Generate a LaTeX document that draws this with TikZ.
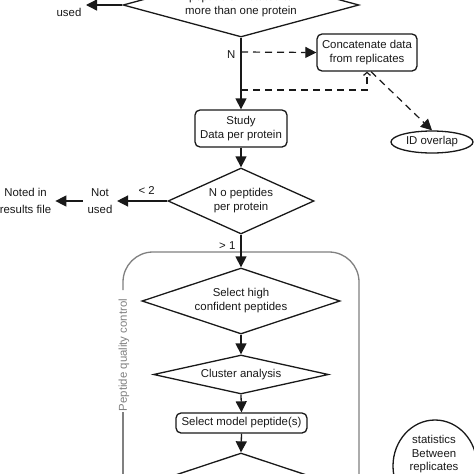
\documentclass[tikz,border=0pt]{standalone}
\usepackage{fontspec}
\setmainfont{Liberation Sans}
\usetikzlibrary{shapes.geometric,arrows.meta}
\begin{document}
\begin{tikzpicture}[x=1pt,y=-1pt,
  every node/.style={font=\fontsize{11.4}{14}\selectfont, text=black!90, align=center},
  wide/.style={font=\fontsize{11.4}{16.5}\selectfont},
  line/.style={line width=1.3pt, draw=black!90},
  arr/.style={line, -{Triangle[length=11pt,width=11pt]}},
  dsh/.style={line width=1.2pt, draw=black!90, dash pattern=on 7pt off 5pt},
  dec/.style={diamond, draw=black!90, line width=1.3pt, aspect=3, inner sep=0pt},
  proc/.style={rectangle, rounded corners=5pt, draw=black!90, line width=1.3pt, inner sep=0pt},
  oval/.style={ellipse, draw=black!90, line width=1.3pt, inner sep=0pt},
  lbl/.style={inner sep=0pt},
  frame/.style={draw=black!50, line width=1.3pt, rounded corners=30pt}]
\path[use as bounding box] (0,0) rectangle (474,474);
\fill[white] (0,0) rectangle (474,474);
\clip (0,0) rectangle (474,474);

% container
\draw[frame] (123,290) -- (123,252) -- (359,252) -- (359,490);
\draw[frame] (123,412) -- (123,490);
\node[rotate=90, text=black!50, inner sep=0pt] (pqc) at (124,355) {Peptide quality control};

% nodes
\node[dec, minimum width=236pt, minimum height=64pt] (d1) at (241,5) {peptide annotated to\\more than one protein};
\node[lbl] (nu1) at (69,12.5) {used};
\coordinate (nu1tip) at (86,5);
\node[proc, minimum width=100pt, minimum height=37pt] (cc) at (367,52.5) {Concatenate data\\from replicates};
\node[oval, minimum width=82pt, minimum height=22pt] (idov) at (432,142) {ID overlap};
\node[proc, minimum width=92pt, minimum height=37pt] (study) at (241,128.5) {Study\\Data per protein};
\node[dec, minimum width=146pt, minimum height=66pt] (d2) at (241,201) {N o peptides\\per protein};
\node[wide, inner xsep=4.5pt] (nu2) at (100,201) {Not\\used};
\node[wide, inner xsep=4pt] (noted) at (25.5,201) {Noted in\\results file};
\node[dec, minimum width=198pt, minimum height=66pt] (d3) at (241,301) {Select high\\confident peptides};
\node[dec, minimum width=175pt, minimum height=39pt] (d4) at (241,374.5) {Cluster analysis};
\node[proc, minimum width=131pt, minimum height=20pt] (model) at (241.5,423) {Select model peptide(s)};
\node[dec, minimum width=198pt, minimum height=66pt] (d5) at (241,486) {};
\node[oval, minimum width=84pt, minimum height=92pt] (stats) at (435,466) {};
\node[font=\fontsize{11.4}{13.5}\selectfont] (statstext) at (434,454.5) {statistics\\Between\\replicates};

% connectors
\coordinate (j1) at (241,52);
\coordinate (j2) at (241,90);
\draw[arr] (d1.west) -- (nu1tip);
\draw[arr] (d1.south) -- node[lbl, left=5pt, pos=0.233] {N} (study.north);
\draw[dsh, -{Triangle[length=11pt,width=11pt]}] (j1) -- (cc.west);
\draw[dsh, -{Straight Barb[length=3pt,width=7pt]}] (j2) -| (cc.south);
\draw[dsh, -{Triangle[length=11pt,width=11pt]}] ([xshift=4pt]cc.south) -- (idov.north);
\draw[arr] (study.south) -- (d2.north);
\draw[arr] (d2.west) -- node[lbl, above=6pt, pos=0.41] {< 2} (nu2.east);
\draw[arr] (nu2.west) -- (noted.east);
\draw[arr] (d2.south) -- node[lbl, left=5pt, pos=0.32] {> 1} (d3.north);
\draw[arr] (d3.south) -- (d4.north);
\draw[arr] (d4.south) -- (model.north);
\draw[arr] (model.south) -- (d5.north);
\end{tikzpicture}
\end{document}
